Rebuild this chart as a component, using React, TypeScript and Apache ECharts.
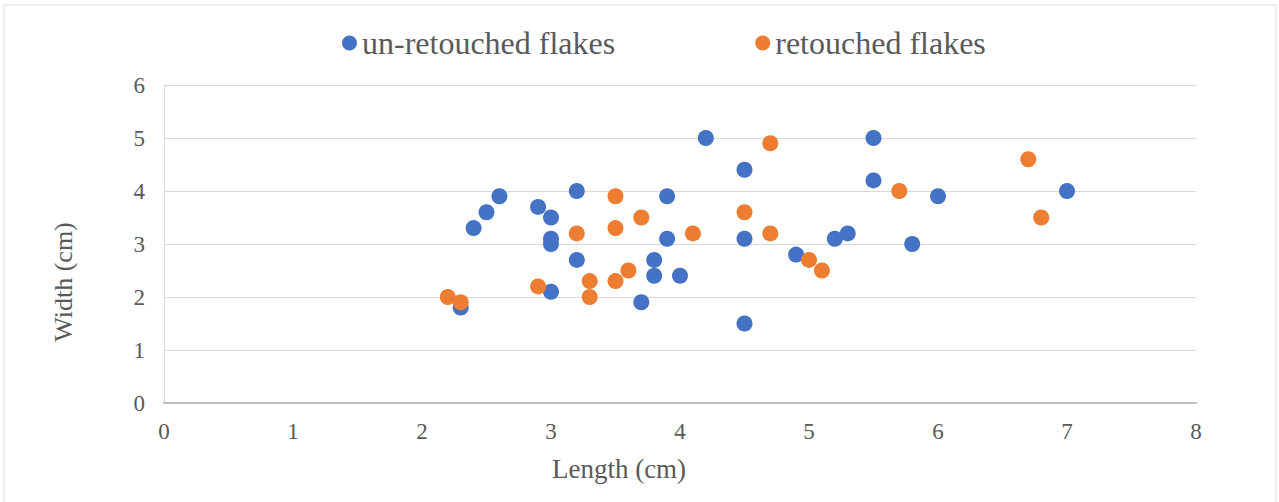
import React, { useEffect, useRef } from "react";
import * as echarts from "echarts";

const unretouched: [number, number][] = [
  [2.3, 1.8], [2.4, 3.3], [2.5, 3.6], [2.6, 3.9], [2.9, 3.7], [3.0, 3.5],
  [3.0, 3.1], [3.0, 3.0], [3.0, 2.1], [3.2, 4.0], [3.2, 2.7], [3.7, 1.9],
  [3.8, 2.7], [3.8, 2.4], [3.9, 3.9], [3.9, 3.1], [4.0, 2.4], [4.2, 5.0],
  [4.5, 4.4], [4.5, 3.1], [4.5, 1.5], [4.9, 2.8], [5.2, 3.1], [5.3, 3.2],
  [5.5, 5.0], [5.5, 4.2], [5.8, 3.0], [6.0, 3.9], [7.0, 4.0],
];

const retouched: [number, number][] = [
  [2.2, 2.0], [2.3, 1.9], [2.9, 2.2], [3.2, 3.2], [3.3, 2.3], [3.3, 2.0],
  [3.5, 3.9], [3.5, 3.3], [3.5, 2.3], [3.6, 2.5], [3.7, 3.5], [4.1, 3.2],
  [4.5, 3.6], [4.7, 4.9], [4.7, 3.2], [5.0, 2.7], [5.1, 2.5], [5.7, 4.0],
  [6.7, 4.6], [6.8, 3.5],
];

const seriesNames = ["un-retouched flakes", "retouched flakes"];
const xTitle = "Length (cm)";
const yTitle = "Width (cm)";

const FONT = "Liberation Serif";
const TXT = "#595959";

export default function App() {
  const ref = useRef<HTMLDivElement>(null);
  useEffect(() => {
    if (!ref.current) return;
    const chart = echarts.init(ref.current, undefined, { renderer: "svg" });
    chart.setOption({
      animation: false,
      backgroundColor: "#ffffff",
      textStyle: { fontFamily: FONT },
      graphic: [
        {
          type: "rect",
          shape: { x: 4, y: 5, width: 1272, height: 510 },
          style: { fill: "none", stroke: "#d9d9d9", lineWidth: 1 },
          silent: true,
        },
      ],
      legend: {
        data: seriesNames,
        left: 337,
        top: 22,
        itemGap: 140,
        itemWidth: 15,
        itemHeight: 15,
        icon: "circle",
        textStyle: { fontFamily: FONT, fontSize: 32, color: TXT, padding: [0, 0, 0, 0] },
      },
      grid: { left: 164, right: 83, top: 85, bottom: 99, containLabel: false },
      xAxis: {
        type: "value",
        min: 0,
        max: 8,
        interval: 1,
        name: xTitle,
        nameLocation: "middle",
        nameGap: 52,
        nameTextStyle: { fontFamily: FONT, fontSize: 27, color: TXT, padding: [0, 122, 0, 0] },
        axisLine: { show: true, lineStyle: { color: "#bfbfbf", width: 2 } },
        axisTick: { show: false },
        splitLine: { show: false },
        axisLabel: { fontFamily: FONT, fontSize: 23, color: TXT, margin: 17 },
      },
      yAxis: {
        type: "value",
        min: 0,
        max: 6,
        interval: 1,
        name: yTitle,
        nameLocation: "middle",
        nameGap: 88,
        nameRotate: 90,
        nameTextStyle: { fontFamily: FONT, fontSize: 26, color: TXT, padding: [0, 76, 0, 0] },
        axisLine: { show: true, lineStyle: { color: "#d9d9d9", width: 1 } },
        axisTick: { show: false },
        splitLine: { show: true, lineStyle: { color: "#d9d9d9", width: 1 } },
        axisLabel: { fontFamily: FONT, fontSize: 23, color: TXT, margin: 19 },
      },
      series: [
        {
          name: seriesNames[0],
          type: "scatter",
          data: unretouched,
          symbol: "circle",
          symbolSize: 16,
          itemStyle: { color: "#4472C4", opacity: 1 },
        },
        {
          name: seriesNames[1],
          type: "scatter",
          data: retouched,
          symbol: "circle",
          symbolSize: 16,
          itemStyle: { color: "#ED7D31", opacity: 1 },
        },
      ],
    });
    return () => chart.dispose();
  }, []);
  return (
    <div
      ref={ref}
      style={{ position: "fixed", left: 0, top: 0, width: 1279, height: 502 }}
    />
  );
}
